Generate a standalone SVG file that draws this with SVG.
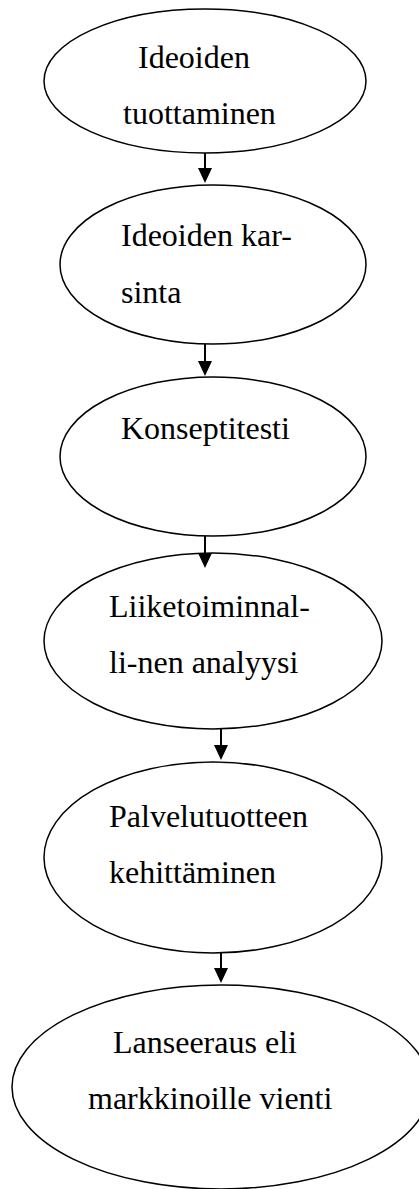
<svg xmlns="http://www.w3.org/2000/svg" width="419" height="1189" viewBox="0 0 419 1189">
<style>
.node ellipse{fill:#fff;stroke:#000;stroke-width:1.5}
.node text{font-family:"Liberation Serif","Times New Roman",serif;font-size:32px;fill:#000}
.conn line{stroke:#000;stroke-width:2}
</style>
<defs>
<marker id="ah" markerUnits="userSpaceOnUse" markerWidth="15" markerHeight="14" refX="11" refY="7" orient="auto">
<path d="M0,0 L15,7 L0,14 z" fill="#000"/>
</marker>
</defs>
<rect width="419" height="1189" fill="#fff"/>
<g id="n1" class="node">
<ellipse cx="205" cy="81" rx="161" ry="72"/>
<text x="138" y="68">Ideoiden</text>
<text x="123" y="124">tuottaminen</text>
</g>
<g id="n2" class="node">
<ellipse cx="213" cy="264.5" rx="153" ry="79.5"/>
<text x="121" y="246">Ideoiden kar-</text>
<text x="121" y="303">sinta</text>
</g>
<g id="n3" class="node">
<ellipse cx="213" cy="456.5" rx="153" ry="79.5"/>
<text x="121" y="439">Konseptitesti</text>
</g>
<g id="n4" class="node">
<ellipse cx="213" cy="641" rx="169" ry="88"/>
<text x="109" y="617">Liiketoiminnal-</text>
<text x="109" y="673">li-nen analyysi</text>
</g>
<g id="n5" class="node">
<ellipse cx="213" cy="857.5" rx="169" ry="95.5"/>
<text x="109" y="827">Palvelutuotteen</text>
<text x="109" y="883">kehittäminen</text>
</g>
<g id="n6" class="node">
<ellipse cx="221" cy="1087" rx="209" ry="102"/>
<text x="113" y="1053">Lanseeraus eli</text>
<text x="88" y="1109">markkinoille vienti</text>
</g>
<g id="connectors" class="conn">
<line x1="205" y1="153" x2="205" y2="179" marker-end="url(#ah)"/>
<line x1="205" y1="344" x2="205" y2="372" marker-end="url(#ah)"/>
<line x1="205" y1="536" x2="205" y2="564" marker-end="url(#ah)"/>
<line x1="221" y1="729" x2="221" y2="756" marker-end="url(#ah)"/>
<line x1="221" y1="953" x2="221" y2="979" marker-end="url(#ah)"/>
</g>
</svg>
